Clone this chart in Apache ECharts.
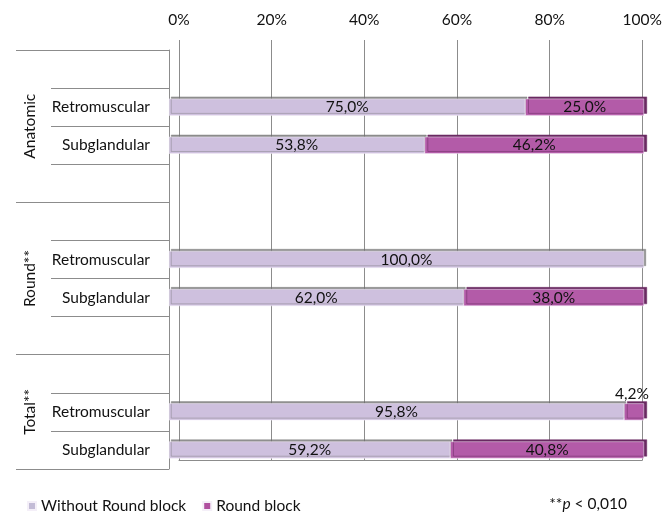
<!DOCTYPE html>
<html>
<head>
<meta charset="utf-8">
<script src="https://cdn.jsdelivr.net/npm/echarts@6/dist/echarts.min.js"></script>
<style>
html,body{margin:0;padding:0;background:#fff;}
#chart{width:665px;height:515px;}
</style>
</head>
<body>
<div id="chart"></div>
<script>
// ---- data ----
var categories = ['', 'Retromuscular', 'Subglandular', '', '', 'Retromuscular', 'Subglandular', '', '', 'Retromuscular', 'Subglandular'];
var groupNames = ['Anatomic', 'Round**', 'Total**'];
var groupSizes = [4, 4, 3];
var withoutRoundBlock = [null, 75.0, 53.8, null, null, 100.0, 62.0, null, null, 95.8, 59.2];
var roundBlock = [null, 25.0, 46.2, null, null, null, 38.0, null, null, 4.2, 40.8];
var xTicks = [0, 20, 40, 60, 80, 100];
var seriesNames = ['Without Round block', 'Round block'];

// group boundaries / centres derived from group sizes
var groupBounds = [0], groupCenters = [];
groupSizes.forEach(function (s, i) {
  groupCenters.push(groupBounds[i] + s / 2);
  groupBounds.push(groupBounds[i] + s);
});

var FONT = 'Lato';
var TXT = '#111111';
var LINE = '#8c8c8c';
var FS = 15.5;
function pct(v) { return v.toFixed(1).replace('.', ',') + '%'; }

var chart = echarts.init(document.getElementById('chart'));
chart.setOption({
  animation: false,
  textStyle: { fontFamily: FONT },
  grid: [
    { left: 179, right: 12, top: 40, bottom: 55 },   // back wall
    { left: 169, right: 21, top: 50, bottom: 46 }    // bars
  ],
  xAxis: [
    {
      gridIndex: 0, type: 'value', position: 'top', min: xTicks[0], max: xTicks[xTicks.length - 1],
      interval: xTicks[1] - xTicks[0],
      axisLine: { show: true, lineStyle: { color: LINE } },
      axisTick: { show: false },
      splitLine: { show: true, lineStyle: { color: LINE, width: 1 } },
      axisLabel: { color: TXT, fontSize: FS, margin: 12, formatter: function (v) { return v + '%'; } }
    },
    {
      gridIndex: 1, type: 'value', min: 0, max: 100, show: false
    }
  ],
  yAxis: [
    {
      gridIndex: 0, type: 'value', show: false
    },
    {
      gridIndex: 1, type: 'category', inverse: true, data: categories,
      axisLine: { show: true, lineStyle: { color: LINE } },
      axisTick: { show: true, length: 118, lineStyle: { color: LINE } },
      axisLabel: { color: TXT, fontSize: FS, margin: 19 },
      splitLine: { show: false }
    },
    {
      gridIndex: 1, type: 'value', inverse: true, min: 0, max: categories.length, position: 'left',
      axisLine: { show: false },
      splitLine: { show: false },
      axisTick: { show: true, length: 153, customValues: groupBounds, lineStyle: { color: LINE } },
      axisLabel: {
        show: true, rotate: 90, margin: 131, color: TXT, fontSize: FS,
        customValues: groupCenters,
        formatter: function (v) {
          var i = groupCenters.indexOf(v);
          return i >= 0 ? groupNames[i] : '';
        }
      }
    }
  ],
  legend: {
    left: 27, bottom: 1, padding: 0, itemWidth: 8, itemHeight: 8, itemGap: 16, icon: 'rect',
    textStyle: { color: TXT, fontSize: FS, fontFamily: FONT },
    data: [
      { name: seriesNames[0], itemStyle: { color: '#C3BCD6' } },
      { name: seriesNames[1], itemStyle: { color: '#B0509F' } }
    ]
  },
  title: {
    right: 38, bottom: 3, padding: 0,
    text: '{a|**}{b|p}{a| < 0,010}',
    textStyle: {
      fontWeight: 'normal',
      rich: {
        a: { fontSize: FS, color: TXT, fontFamily: FONT, fontWeight: 'normal' },
        b: { fontSize: FS, color: TXT, fontFamily: FONT, fontStyle: 'italic', fontWeight: 'normal' }
      }
    }
  },
  series: [
    {
      name: seriesNames[0], type: 'bar', stack: 'total', xAxisIndex: 1, yAxisIndex: 1,
      data: withoutRoundBlock, barWidth: 17,
      itemStyle: { color: '#CEC0DE', borderColor: '#f4eff8', borderWidth: 0.5,
        shadowColor: 'rgba(110,110,110,0.75)', shadowOffsetY: -2, shadowOffsetX: 2, shadowBlur: 0 },
      label: { show: true, position: 'inside', color: TXT, fontSize: FS, fontFamily: FONT,
        formatter: function (p) { return pct(p.value); } }
    },
    {
      name: seriesNames[1], type: 'bar', stack: 'total', xAxisIndex: 1, yAxisIndex: 1,
      data: roundBlock, barWidth: 17,
      itemStyle: { color: '#B35BA8', borderColor: '#f4eff8', borderWidth: 0.5,
        shadowColor: '#6a2a62', shadowOffsetY: -2, shadowOffsetX: 3, shadowBlur: 0 },
      label: { show: true, position: 'inside', color: TXT, fontSize: FS, fontFamily: FONT,
        formatter: function (p) { return pct(p.value); } },
      labelLayout: function (params) {
        if (params.rect.width < 30) {
          return { dy: -18, dx: -2 };
        }
        return null;
      }
    }
  ]
});
</script>
</body>
</html>
